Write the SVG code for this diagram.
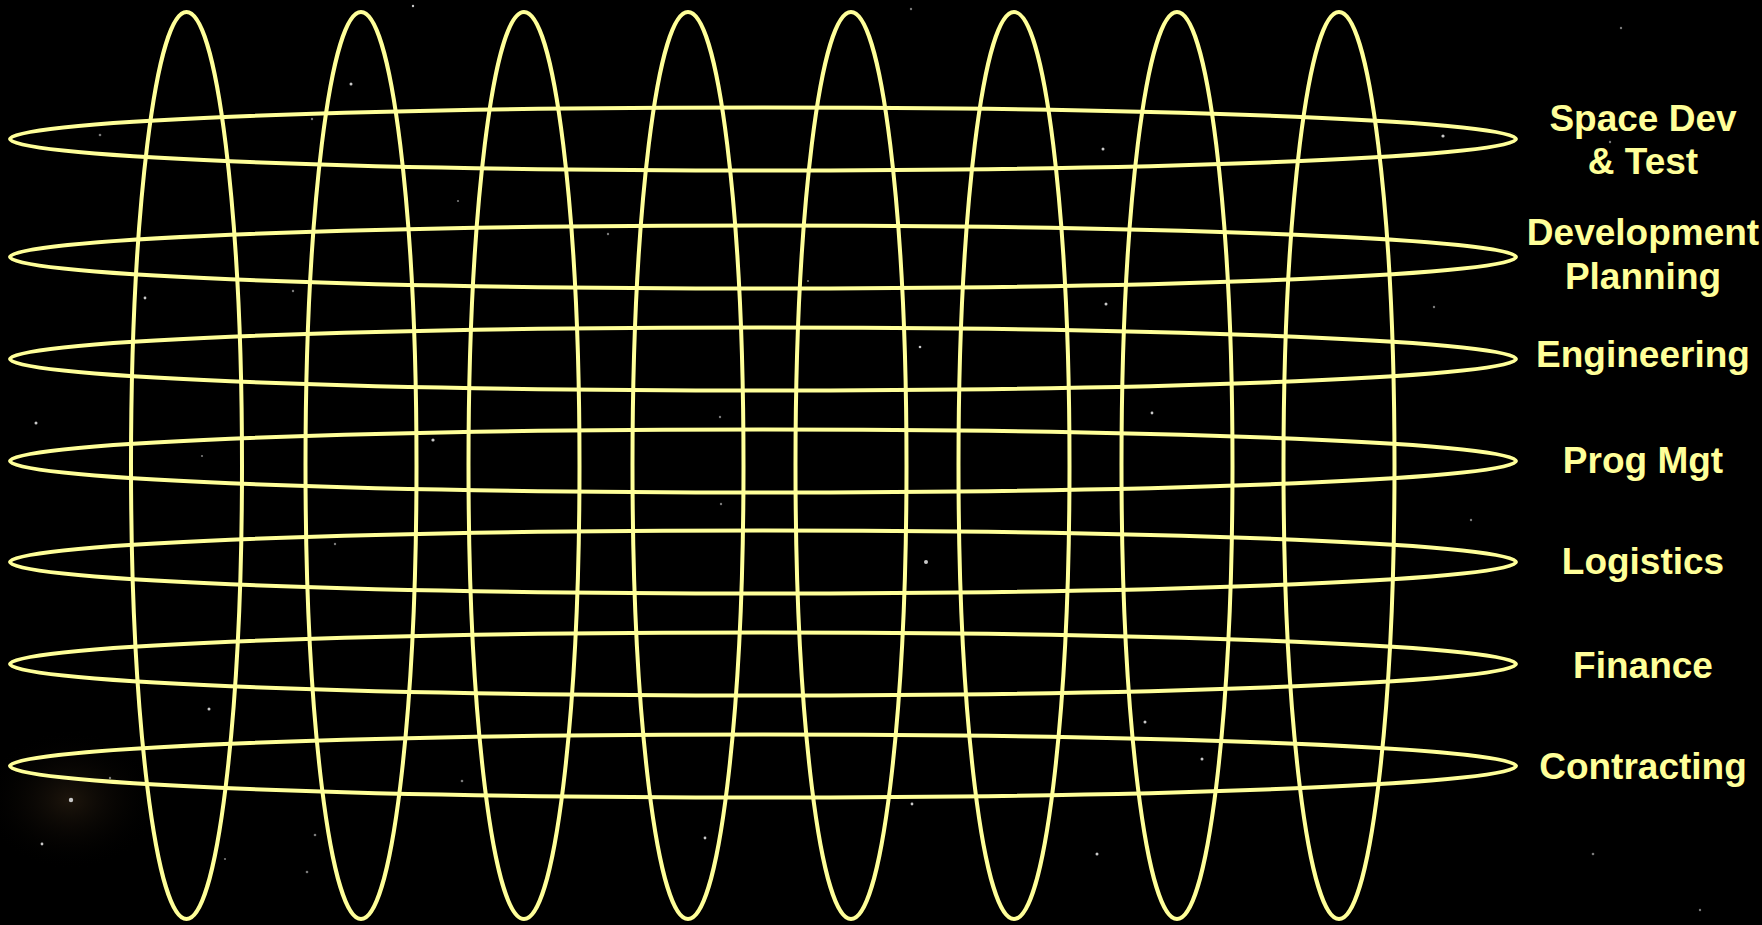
<svg xmlns="http://www.w3.org/2000/svg" width="1762" height="925" viewBox="0 0 1762 925">
  <defs>
    <style>
      .ring { fill: none; stroke: #FFFF99; stroke-width: 4; }
      .lbl { fill: #FFFF99; font-family: "Liberation Sans", Arial, sans-serif; font-weight: bold; font-size: 37px; text-anchor: middle; }
      .star { fill: #C8C8C8; }
      .dim { fill: #7A7A7A; }
    </style>
    <radialGradient id="glow" cx="0.5" cy="0.5" r="0.5">
      <stop offset="0" stop-color="#3A2A18" stop-opacity="0.5"/>
      <stop offset="1" stop-color="#000000" stop-opacity="0"/>
    </radialGradient>
  </defs>
  <rect id="background" x="0" y="0" width="1762" height="925" fill="#000000"/>
  <ellipse cx="70" cy="800" rx="90" ry="70" fill="url(#glow)"/>
  <g id="stars">
    <circle class="star" cx="71" cy="800" r="2.2" fill="#F0D0B0"/>
    <circle class="star" cx="413" cy="6" r="1.2"/>
    <circle class="star" cx="351" cy="84" r="1.5"/>
    <circle class="dim" cx="100" cy="135" r="1.3"/>
    <circle class="dim" cx="312" cy="119" r="1.2"/>
    <circle class="star" cx="145" cy="298" r="1.4"/>
    <circle class="dim" cx="293" cy="291" r="1.2"/>
    <circle class="dim" cx="458" cy="201" r="1.1"/>
    <circle class="star" cx="209" cy="709" r="1.5"/>
    <circle class="star" cx="42" cy="844" r="1.4"/>
    <circle class="dim" cx="462" cy="781" r="1.3"/>
    <circle class="dim" cx="110" cy="778" r="1.2"/>
    <circle class="dim" cx="315" cy="835" r="1.3"/>
    <circle class="dim" cx="307" cy="872" r="1.3"/>
    <circle class="dim" cx="225" cy="859" r="1.1"/>
    <circle class="star" cx="36" cy="423" r="1.5"/>
    <circle class="star" cx="433" cy="440" r="1.6"/>
    <circle class="dim" cx="335" cy="544" r="1.2"/>
    <circle class="dim" cx="202" cy="456" r="1.1"/>
    <circle class="star" cx="920" cy="347" r="1.3"/>
    <circle class="star" cx="1152" cy="413" r="1.4"/>
    <circle class="star" cx="926" cy="562" r="2" fill="#C8C8F0"/>
    <circle class="dim" cx="721" cy="504" r="1.2"/>
    <circle class="dim" cx="720" cy="417" r="1.2"/>
    <circle class="dim" cx="911" cy="9" r="1.2"/>
    <circle class="star" cx="1103" cy="149" r="1.5"/>
    <circle class="star" cx="1106" cy="304" r="1.5"/>
    <circle class="dim" cx="608" cy="234" r="1.2"/>
    <circle class="dim" cx="808" cy="281" r="1.1"/>
    <circle class="star" cx="705" cy="838" r="1.4"/>
    <circle class="star" cx="912" cy="804" r="1.4"/>
    <circle class="star" cx="1097" cy="854" r="1.5"/>
    <circle class="star" cx="1145" cy="722" r="1.5"/>
    <circle class="star" cx="1443" cy="136" r="1.6"/>
    <circle class="dim" cx="1610" cy="142" r="1.2"/>
    <circle class="dim" cx="1434" cy="307" r="1.2"/>
    <circle class="star" cx="1202" cy="759" r="1.5"/>
    <circle class="dim" cx="1593" cy="854" r="1.3"/>
    <circle class="dim" cx="1700" cy="910" r="1.2"/>
    <circle class="dim" cx="1471" cy="520" r="1.2"/>
    <circle class="dim" cx="1621" cy="28" r="1.2"/>
  </g>
  <g id="connectors">
    <g id="columns">
      <g id="col1"><ellipse class="ring" cx="186.5" cy="465.5" rx="55.5" ry="453.5"/></g>
      <g id="col2"><ellipse class="ring" cx="361" cy="465.5" rx="55.5" ry="453.5"/></g>
      <g id="col3"><ellipse class="ring" cx="524" cy="465.5" rx="55.5" ry="453.5"/></g>
      <g id="col4"><ellipse class="ring" cx="688" cy="465.5" rx="55.5" ry="453.5"/></g>
      <g id="col5"><ellipse class="ring" cx="851" cy="465.5" rx="55.5" ry="453.5"/></g>
      <g id="col6"><ellipse class="ring" cx="1014" cy="465.5" rx="55.5" ry="453.5"/></g>
      <g id="col7"><ellipse class="ring" cx="1177" cy="465.5" rx="55.5" ry="453.5"/></g>
      <g id="col8"><ellipse class="ring" cx="1339" cy="465.5" rx="55.5" ry="453.5"/></g>
    </g>
    <g id="rows">
      <ellipse class="ring" cx="763" cy="139" rx="753" ry="31.5"/>
      <ellipse class="ring" cx="763" cy="257" rx="753" ry="31.5"/>
      <ellipse class="ring" cx="763" cy="359" rx="753" ry="31.5"/>
      <ellipse class="ring" cx="763" cy="461" rx="753" ry="31.5"/>
      <ellipse class="ring" cx="763" cy="562" rx="753" ry="31.5"/>
      <ellipse class="ring" cx="763" cy="664" rx="753" ry="31.5"/>
      <ellipse class="ring" cx="763" cy="766" rx="753" ry="31.5"/>
    </g>
  </g>
  <g id="space-dev-test"><text class="lbl" x="1643" y="131">Space Dev</text><text class="lbl" x="1643" y="174">&amp; Test</text></g>
  <g id="development-planning"><text class="lbl" x="1643" y="245">Development</text><text class="lbl" x="1643" y="289">Planning</text></g>
  <g id="engineering"><text class="lbl" x="1643" y="367">Engineering</text></g>
  <g id="prog-mgt"><text class="lbl" x="1643" y="473">Prog Mgt</text></g>
  <g id="logistics"><text class="lbl" x="1643" y="574">Logistics</text></g>
  <g id="finance"><text class="lbl" x="1643" y="678">Finance</text></g>
  <g id="contracting"><text class="lbl" x="1643" y="779">Contracting</text></g>
</svg>
